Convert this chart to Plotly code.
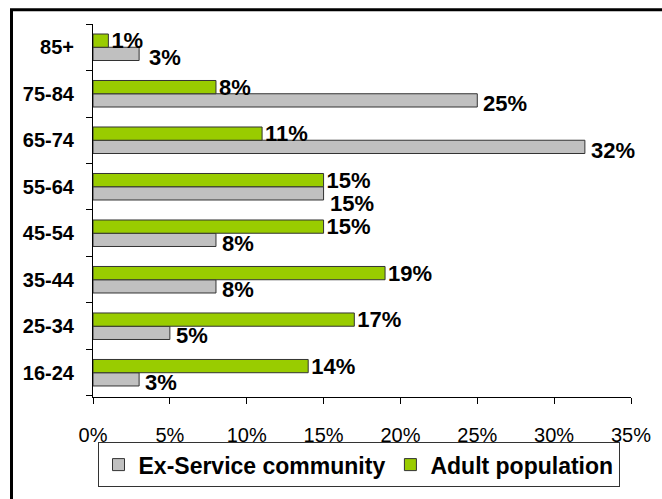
import plotly.graph_objects as go

categories = ["16-24", "25-34", "35-44", "45-54", "55-64", "65-74", "75-84", "85+"]
ex_service = [3, 5, 8, 8, 15, 32, 25, 3]
adult_pop = [14, 17, 19, 15, 15, 11, 8, 1]
series_names = ["Ex-Service community", "Adult population"]

FONT = "Liberation Sans, Arial, sans-serif"
W, H = 662, 499
ML, MR, MT, MB = 93, 31, 24, 95
PW, PH = W - ML - MR, H - MT - MB
XMAX = 35
BARGAP = 0.43
LABEL_SIZE = 22

def px_x(p):
    return (p - ML) / PW

def px_y(p):
    return (H - MB - p) / PH

def label_width(txt):
    # approximate Arial Bold advance widths
    w = sum(0.889 if c == "%" else 0.556 for c in txt)
    return w * LABEL_SIZE

ppu = PW / XMAX
band = PH / len(categories)
bar_px = band * (1 - BARGAP) / 2

ex_text = [f"{v}%" for v in ex_service]
ad_text = [f"{v}%" for v in adult_pop]

fig = go.Figure()
fig.add_trace(go.Bar(
    y=categories, x=ex_service, name=series_names[0], orientation="h",
    marker=dict(color="#C0C0C0", line=dict(color="#333333", width=1)),
))
fig.add_trace(go.Bar(
    y=categories, x=adult_pop, name=series_names[1], orientation="h",
    marker=dict(color="#99CC00", line=dict(color="#333333", width=1)),
    text=ad_text, texttemplate="%{text}", textposition="outside",
    cliponaxis=False, constraintext="none",
    textfont=dict(family=FONT, size=LABEL_SIZE, color="black", weight="bold"),
))

# grey labels placed like Excel: beside the bar, nudged to avoid the green label
annotations = []
for cat, ev, av, et, at in zip(categories, ex_service, adult_pop, ex_text, ad_text):
    xs = 4
    ys = -bar_px / 2 - 3
    grey_start = ev * ppu + xs
    green_end = av * ppu + 3 + label_width(at)
    if grey_start < green_end + 2 and ev * ppu + label_width(et) > av * ppu:
        if ev > av:
            xs += green_end + 4 - grey_start
        else:
            ys -= 7
    annotations.append(dict(
        x=ev, y=cat, xref="x", yref="y", text=et, showarrow=False,
        xanchor="left", yanchor="middle", xshift=xs, yshift=ys,
        font=dict(family=FONT, size=LABEL_SIZE, color="black", weight="bold"),
    ))

fig.update_layout(
    width=W, height=H,
    margin=dict(l=ML, r=MR, t=MT, b=MB, pad=0),
    paper_bgcolor="white", plot_bgcolor="white",
    barmode="group", bargap=BARGAP, bargroupgap=0,
    font=dict(family=FONT, color="black"),
    showlegend=True,
    legend=dict(
        orientation="h", x=px_x(358.5), xanchor="center",
        y=px_y(450), yanchor="top",
        font=dict(family=FONT, size=23, color="black", weight="bold"),
        bgcolor="white", bordercolor="#333333", borderwidth=1,
        traceorder="normal", itemclick=False,
    ),
    xaxis=dict(
        range=[0, XMAX], dtick=5, tick0=0, ticksuffix="%",
        showgrid=False, zeroline=False,
        showline=True, linecolor="black", linewidth=1,
        ticks="outside", ticklen=6, tickcolor="black",
        tickfont=dict(family=FONT, size=20, color="black"),
        ticklabelstandoff=14,
        fixedrange=True,
    ),
    yaxis=dict(
        showgrid=False, zeroline=False,
        showline=True, linecolor="black", linewidth=1,
        ticks="outside", ticklen=6, tickcolor="black",
        tickson="boundaries",
        tickfont=dict(family=FONT, size=20, color="black", weight="bold"),
        ticklabelstandoff=14,
        fixedrange=True,
    ),
    annotations=annotations,
    shapes=[dict(
        type="rect", xref="paper", yref="paper",
        x0=px_x(11.5), x1=px_x(700), y0=px_y(9.5), y1=px_y(560),
        line=dict(color="black", width=3), fillcolor="rgba(0,0,0,0)",
        layer="above",
    )],
)

fig.write_html("out.html", config={"displayModeBar": False},
               post_script="document.body.style.margin='0';document.body.style.overflow='hidden';")
